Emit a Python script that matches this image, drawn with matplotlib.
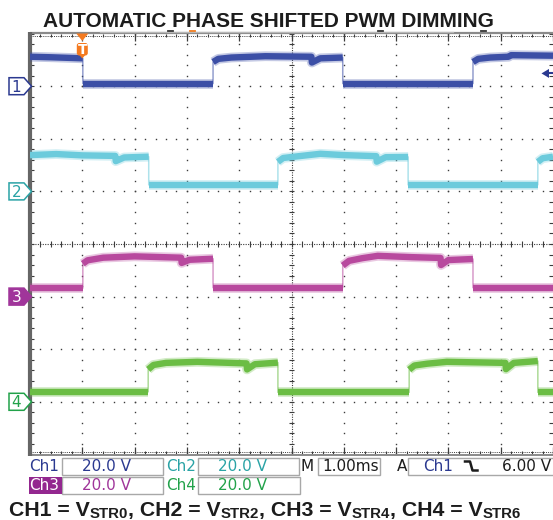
import matplotlib
matplotlib.use('Agg')
import matplotlib.pyplot as plt
from matplotlib.patches import Polygon, Rectangle, FancyBboxPatch
import numpy as np

# ---------------- data ----------------
title = "AUTOMATIC PHASE SHIFTED PWM DIMMING"
ms_per_div = 1.0
volts_per_div = 20.0
trigger_time_ms = 1.0          # trigger position from left screen edge
trigger_level_v = 6.0

ch_names = ["Ch1", "Ch2", "Ch3", "Ch4"]
ch_scales = ["20.0 V", "20.0 V", "20.0 V", "20.0 V"]
ch_offsets_div = [3, 1, -1, -3]
ch_colors = ["#3c4fa6", "#6ccbdc", "#b8499e", "#6bbd44"]
ch_text_colors = ["#2b3990", "#2aa3a6", "#a0359a", "#22a24a"]
timebase_label = "1.00ms"
trig_label = "6.00 V"

# time (ms from left screen edge) / voltage (V) of each trace
ch1_t = [0.0, 0.4, 1.01, 1.01, 3.50, 3.50, 3.60, 3.85, 4.5, 5.38, 5.39, 5.55, 5.98,
         5.98, 8.47, 8.47, 8.57, 8.80, 9.15, 9.20, 10.0]
ch1_v = [11.2, 11.0, 10.6, 1.0, 1.0, 9.2, 10.4, 10.9, 11.4, 11.2, 9.0, 10.6, 10.9,
         1.0, 1.0, 9.2, 10.4, 10.9, 11.2, 11.8, 11.6]

ch2_t = [0.0, 0.5, 1.0, 1.63, 1.64, 1.80, 2.27, 2.27, 4.74, 4.74, 4.84, 5.10, 5.55,
         6.0, 6.62, 6.63, 6.80, 7.23, 7.23, 9.71, 9.71, 9.80, 10.0]
ch2_v = [13.8, 14.2, 13.7, 13.5, 11.5, 12.9, 13.2, 2.5, 2.5, 11.2, 12.7, 13.3, 14.3,
         13.8, 13.4, 11.3, 13.0, 13.1, 2.5, 2.5, 11.2, 12.6, 13.2]

ch3_t = [0.0, 1.01, 1.01, 1.10, 1.40, 2.0, 2.89, 2.90, 3.05, 3.50, 3.50, 5.98, 5.98,
         6.10, 6.35, 6.65, 7.30, 7.85, 7.86, 8.00, 8.47, 8.47, 10.0]
ch3_v = [3.2, 3.2, 12.5, 13.8, 14.8, 15.3, 14.8, 12.8, 14.0, 14.4, 3.4, 3.4, 11.8,
         13.6, 14.6, 15.5, 15.0, 14.7, 12.0, 13.9, 14.3, 3.4, 3.4]

ch4_t = [0.0, 2.26, 2.26, 2.36, 2.60, 3.20, 4.14, 4.15, 4.30, 4.74, 4.74, 7.25, 7.25,
         7.35, 7.60, 7.97, 9.09, 9.10, 9.25, 9.71, 9.71, 10.0]
ch4_v = [3.8, 3.8, 12.3, 14.0, 14.8, 15.2, 14.6, 12.3, 14.3, 14.9, 3.6, 3.6, 12.2,
         13.8, 14.5, 15.2, 14.8, 12.4, 14.8, 15.5, 3.6, 3.6]

caption_parts = [("CH1 = V", "STR0"), (", CH2 = V", "STR2"),
                 (", CH3 = V", "STR4"), (", CH4 = V", "STR6")]

# ---------------- figure ----------------
W, H = 553, 520
fig = plt.figure(figsize=(W / 100, H / 100), dpi=100)
fig.patch.set_facecolor("white")

L, R, T, B = 30.0, 553.0, 33.6, 454.4
ax = fig.add_axes([L / W, 1 - B / H, (R - L) / W, (B - T) / H])
ax.set_xlim(0, 10)
ax.set_ylim(-4, 4)
ax.axis("off")

def ypix(div):
    return B - (div + 4) * (B - T) / 8.0

def xpix(div):
    return L + div * (R - L) / 10.0

# graticule
gc = "#3c3c3c"
mx = np.arange(0, 10.001, 0.2)
my = np.arange(-4, 4.001, 0.2)
for k in range(1, 10):
    if k == 5:
        continue
    ax.plot(np.full_like(my, k), my, ls="none", marker="s", ms=1.0, mew=0, color=gc, zorder=1)
for k in [-3, -2, -1, 1, 2, 3]:
    ax.plot(mx, np.full_like(mx, k), ls="none", marker="s", ms=1.0, mew=0, color=gc, zorder=1)
# centre crosshair
ax.plot([0, 10], [0, 0], ls=(0, (1, 1.2)), lw=0.8, color=gc, zorder=1)
ax.plot([5, 5], [-4, 4], ls=(0, (1, 1.2)), lw=0.8, color=gc, zorder=1)
ax.vlines(mx, -0.06, 0.06, lw=0.8, color=gc, zorder=1)
ax.hlines(my, 4.95, 5.05, lw=0.8, color=gc, zorder=1)
# border rulers
ax.vlines(mx, 3.93, 4, lw=0.8, color=gc, clip_on=False)
ax.vlines(mx, -4, -3.93, lw=0.8, color=gc, clip_on=False)
ax.vlines(np.arange(0, 11), -4, -3.86, lw=0.9, color=gc, clip_on=False)
ax.vlines(np.arange(0, 11), 3.86, 4, lw=0.9, color=gc, clip_on=False)
ax.hlines(my, 0, 0.07, lw=0.8, color=gc, clip_on=False)
ax.hlines(my, 9.93, 10, lw=0.8, color=gc, clip_on=False)
ax.plot([0, 10], [3.955, 3.955], ls=(0, (1, 1.2)), lw=0.7, color=gc, clip_on=False)
ax.plot([0, 10], [-3.955, -3.955], ls=(0, (1, 1.2)), lw=0.7, color=gc, clip_on=False)
ax.plot([0, 10], [4.02, 4.02], lw=1.6, color="#8a8a8a", clip_on=False, solid_capstyle="butt")
ax.plot([0, 10], [-4.02, -4.02], lw=1.4, color="#8a8a8a", clip_on=False, solid_capstyle="butt")
ax.plot([0, 0], [-4.03, 4.03], lw=3.0, color="#666666", clip_on=False, solid_capstyle="butt")

# traces
traces = [(ch1_t, ch1_v), (ch2_t, ch2_v), (ch3_t, ch3_v), (ch4_t, ch4_v)]

def draw_run(seg_t, seg_y, col):
    ax.plot(seg_t, seg_y, color=col, lw=7.0, alpha=0.3, zorder=3, solid_capstyle="butt")
    ax.plot(seg_t, seg_y, color=col, lw=4.6, zorder=4, solid_capstyle="butt")

for (tt, vv), off, col in zip(traces, ch_offsets_div, ch_colors):
    tt = np.asarray(tt) / ms_per_div
    yy = off + np.asarray(vv) / volts_per_div
    ax.plot(tt, yy, color=col, lw=1.1, alpha=0.55, zorder=3)
    start = 0
    for i in range(len(tt) - 1):
        if tt[i + 1] == tt[i]:
            if i > start:
                draw_run(tt[start:i + 1], yy[start:i + 1], col)
            start = i + 1
    if len(tt) - 1 > start:
        draw_run(tt[start:], yy[start:], col)

# ---------------- overlay (annotations) ----------------
ov = fig.add_axes([0, 0, 1, 1])
ov.set_xlim(0, W)
ov.set_ylim(H, 0)
ov.axis("off")
ov.set_zorder(5)

ov.text(268, 27, title, ha="center", va="baseline", fontsize=15, fontweight="bold",
        family="Liberation Sans", color="#1c1c1c")

# record bar above screen
ov.plot([100, 453], [31.8, 31.8], color="#b8b8b8", lw=0.9)
for xm, cm in [(170, "#333333"), (380, "#333333"), (483, "#333333"), (192, "#f07c1e")]:
    ov.plot([xm - 2.5, xm + 2.5], [31.0, 31.0], color=cm, lw=1.3)

# channel ground markers
for i, (off, col) in enumerate(zip(ch_offsets_div, ch_text_colors)):
    y0 = ypix(off)
    filled = (i == 2)
    pts = [(9, y0 - 8.5), (24, y0 - 8.5), (31.5, y0), (24, y0 + 8.5), (9, y0 + 8.5)]
    ov.add_patch(Polygon(pts, closed=True, fc=col if filled else "white", ec=col, lw=1.1))
    ov.text(16.5, y0 + 0.8, str(i + 1), color="white" if filled else col, ha="center",
            va="center", fontsize=11)

# trigger position marker
tx = xpix(trigger_time_ms / ms_per_div)
orange = "#f47a20"
ov.add_patch(Polygon([(tx - 6, 33.5), (tx + 6, 33.5), (tx, 41)], closed=True, fc=orange, ec="none"))
ov.add_patch(FancyBboxPatch((tx - 5.5, 43), 11, 12.5, boxstyle="round,pad=0,rounding_size=2.5",
                            fc=orange, ec="none"))
ov.add_patch(Polygon([(tx - 3, 55), (tx + 3, 55), (tx, 58.5)], closed=True, fc=orange, ec="none"))
ov.text(tx, 50, "T", color="white", ha="center", va="center", fontsize=10, fontweight="bold")

# trigger level arrow
ty = ypix(ch_offsets_div[0] + trigger_level_v / volts_per_div) + 3
ov.add_patch(Polygon([(541.5, ty), (549, ty - 4.5), (549, ty + 4.5)], closed=True,
                     fc=ch_text_colors[0], ec="none"))
ov.plot([548, 553], [ty, ty], color=ch_text_colors[0], lw=1.5)

# readout area
box_ec = "#a8a8a8"
r1y0, r1y1 = 457.5, 474.5
r2y0, r2y1 = 477.0, 493.5
fs = 11
def box(x0, x1, y0, y1):
    ov.add_patch(Rectangle((x0, y0), x1 - x0, y1 - y0, fc="white", ec=box_ec, lw=1.0))

box(62, 163, r1y0, r1y1)
box(198, 299, r1y0, r1y1)
box(62, 163, r2y0, r2y1)
box(198, 300, r2y0, r2y1)
box(318, 380, r1y0, r1y1)
box(408, 560, r1y0, r1y1)
ov.add_patch(Rectangle((28.5, r2y0), 33, r2y1 - r2y0, fc="#93278f", ec="none"))

r1c = (r1y0 + r1y1) / 2 + 0.5
r2c = (r2y0 + r2y1) / 2 + 0.5
ov.text(29.5, r1c, ch_names[0], color=ch_text_colors[0], fontsize=fs, va="center")
ov.text(82, r1c, ch_scales[0], color=ch_text_colors[0], fontsize=fs, va="center")
ov.text(166, r1c, ch_names[1], color=ch_text_colors[1], fontsize=fs, va="center")
ov.text(218, r1c, ch_scales[1], color=ch_text_colors[1], fontsize=fs, va="center")
ov.text(29.5, r2c, ch_names[2], color="white", fontsize=fs, va="center")
ov.text(82, r2c, ch_scales[2], color=ch_text_colors[2], fontsize=fs, va="center")
ov.text(166, r2c, ch_names[3], color=ch_text_colors[3], fontsize=fs, va="center")
ov.text(218, r2c, ch_scales[3], color=ch_text_colors[3], fontsize=fs, va="center")
ov.text(301, r1c, "M", color="#1c1c1c", fontsize=fs, va="center")
ov.text(322, r1c, timebase_label, color="#1c1c1c", fontsize=fs, va="center")
ov.text(397, r1c, "A", color="#1c1c1c", fontsize=fs, va="center")
ov.text(423, r1c, ch_names[0], color=ch_text_colors[0], fontsize=fs, va="center")
ov.plot([465, 470, 472.5, 477.5], [461.5, 461.5, 470.5, 470.5], color="#1c1c1c", lw=1.8)
ov.text(502, r1c, trig_label, color="#1c1c1c", fontsize=fs, va="center")

# caption with subscripts
fig.canvas.draw()
renderer = fig.canvas.get_renderer()
x = 9.0
for main, sub in caption_parts:
    t1 = ov.text(x, 516, main, fontsize=15.3, fontweight="bold", family="Liberation Sans",
                 va="baseline", ha="left", color="#1c1c1c")
    x += t1.get_window_extent(renderer).width
    t2 = ov.text(x, 518.5, sub, fontsize=10.8, fontweight="bold", family="Liberation Sans",
                 va="baseline", ha="left", color="#1c1c1c")
    x += t2.get_window_extent(renderer).width

fig.savefig("out.png", dpi=100, facecolor="white")
